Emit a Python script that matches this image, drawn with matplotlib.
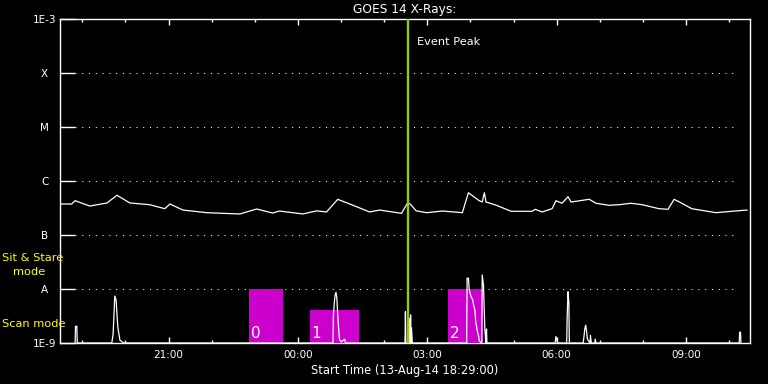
import pandas as pd
import matplotlib
matplotlib.use('Agg')
import matplotlib.pyplot as plt
import matplotlib.dates as mdates

# GOES 14 long-channel flux (W/m^2), hours after 18:29 start
goes_hours = [0.02, 0.27, 0.35, 0.69, 1.09, 1.32, 1.62, 2.08, 2.43, 2.55, 2.85, 3.40,
              4.17, 4.56, 4.93, 5.09, 5.63, 5.95, 6.18, 6.44, 6.76, 7.18, 7.41, 7.92,
              8.06, 8.12, 8.26, 8.50, 8.87, 9.33, 9.47, 9.72, 9.79, 9.84, 9.88, 10.12,
              10.46, 10.95, 11.02, 11.18, 11.41, 11.50, 11.64, 11.78, 11.85, 12.27,
              12.43, 12.73, 12.96, 13.24, 13.50, 13.89, 14.10, 14.24, 14.42, 14.65,
              15.21, 15.58, 15.93]
goes_flux = [3.75e-7, 3.75e-7, 4.32e-7, 3.44e-7, 3.92e-7, 5.44e-7, 3.92e-7, 3.64e-7,
             3.07e-7, 3.75e-7, 2.90e-7, 2.59e-7, 2.45e-7, 3.03e-7, 2.55e-7, 2.78e-7,
             2.45e-7, 2.80e-7, 2.67e-7, 4.58e-7, 3.64e-7, 2.67e-7, 2.90e-7, 2.52e-7,
             3.92e-7, 3.75e-7, 2.80e-7, 2.59e-7, 2.78e-7, 2.59e-7, 6.07e-7, 4.32e-7,
             4.08e-7, 6.07e-7, 4.08e-7, 3.55e-7, 2.75e-7, 2.75e-7, 2.99e-7, 2.67e-7,
             3.07e-7, 4.32e-7, 3.87e-7, 5.12e-7, 4.08e-7, 4.58e-7, 3.87e-7, 3.55e-7,
             3.64e-7, 3.87e-7, 3.64e-7, 3.07e-7, 2.99e-7, 4.58e-7, 3.87e-7, 3.07e-7,
             2.59e-7, 2.75e-7, 2.90e-7]

# scan-mode light curve (decades above the 1E-9 floor)
scan_hours = [0.35, 0.36, 0.38, 0.39, 0.40,
              1.20, 1.23, 1.25, 1.27, 1.30, 1.32, 1.34, 1.39, 1.48,
              6.33, 6.34, 6.36, 6.38, 6.40, 6.42, 6.44, 6.46, 6.48, 6.52, 6.60, 6.62,
              8.00, 8.01, 8.02, 8.08, 8.09, 8.10, 8.11, 8.12, 8.13, 8.14, 8.15, 8.17, 8.18, 8.19,
              9.43, 9.44, 9.47, 9.49, 9.53, 9.57, 9.59, 9.62, 9.64, 9.68, 9.71, 9.72,
              9.78, 9.79, 9.82, 9.85, 9.87, 9.88, 9.89, 9.90,
              11.48, 11.50, 11.52, 11.54,
              11.75, 11.76, 11.78, 11.80, 11.81,
              12.13, 12.15, 12.17, 12.19, 12.21, 12.23, 12.29, 12.30, 12.32, 12.40, 12.41, 12.43,
              15.75, 15.76, 15.78, 15.79]
scan_vals = [0, 0.31, 0.31, 0.31, 0,
             0, 0.15, 0.50, 0.87, 0.80, 0.55, 0.30, 0.05, 0,
             0, 0.52, 0.74, 0.89, 0.94, 0.83, 0.52, 0.28, 0.07, 0.02, 0.07, 0,
             0, 0.58, 0, 0, 0.46, 0, 0.30, 0, 0.52, 0, 0.28, 0, 0, 0,
             0, 1.20, 1.20, 0.98, 0.86, 0.80, 0.70, 0.61, 0.39, 0.21, 0.12, 0.04,
             0, 1.26, 1.07, 0.28, 0.04, 0, 0.26, 0,
             0, 0.12, 0.06, 0,
             0, 0.47, 0.95, 0.74, 0,
             0, 0.12, 0.27, 0.33, 0.22, 0.07, 0, 0.14, 0, 0, 0.07, 0,
             0, 0.20, 0.20, 0]

# observing boxes: start/end hours, height (decades)
box_start = [4.375, 5.79, 9.00]
box_end = [5.16, 6.94, 9.80]
box_top = [1.0, 0.61, 1.0]
box_labels = ['0', '1', '2']

event_hour = 8.06
levels = [1e-9, 1e-8, 1e-7, 1e-6, 1e-5, 1e-4, 1e-3]
level_labels = ['1E-9', 'A', 'B', 'C', 'M', 'X', '1E-3']

start = pd.Timestamp('2014-08-13 18:29:00')


def to_time(hours):
    return start + pd.to_timedelta(pd.Series(hours), unit='h')


def main():
    plt.rcParams['font.family'] = 'DejaVu Sans'
    fig = plt.figure(figsize=(7.68, 3.84), dpi=100, facecolor='black')
    ax = fig.add_axes([60 / 768, 41 / 384, 690 / 768, 324 / 384], facecolor='black')

    ax.plot(to_time(goes_hours), goes_flux, color='white', lw=0.9)
    ax.set_yscale('log')
    ax.set_ylim(1e-9, 1e-3)
    ax.set_xlim(start, start + pd.Timedelta(hours=16))

    # dotted level lines
    for lev in levels[1:-1]:
        ax.axhline(lev, xmin=15 / 690, xmax=1 - 14 / 690, color='white',
                   lw=0.75, ls=(0, (1, 5.5)))

    ax.set_yticks(levels)
    ax.set_yticklabels(level_labels)
    ax.yaxis.set_minor_locator(matplotlib.ticker.NullLocator())
    ax.tick_params(axis='y', which='major', direction='in', length=10.5, width=1,
                   colors='white', left=True, right=True, labelsize=7.5, pad=11)
    for lab in ax.get_yticklabels():
        lab.set_horizontalalignment('center')

    ax.xaxis.set_major_locator(mdates.HourLocator(byhour=range(0, 24, 3)))
    ax.xaxis.set_minor_locator(mdates.HourLocator())
    ax.xaxis.set_major_formatter(mdates.DateFormatter('%H:%M'))
    ax.tick_params(axis='x', which='major', direction='in', length=4.3, width=1,
                   colors='white', top=True, bottom=True, labelsize=7.5, pad=5)
    ax.tick_params(axis='x', which='minor', direction='in', length=2.2, width=1,
                   colors='white', top=True, bottom=True)
    ax.set_xlabel('Start Time (13-Aug-14 18:29:00)', color='white', fontsize=8.3, labelpad=3)
    for s in ax.spines.values():
        s.set_color('white')
        s.set_linewidth(1)

    # second layer for scan data, boxes and event line
    ax2 = ax.twinx()
    ax2.set_ylim(0, 6)
    ax2.set_axis_off()
    for x0, x1, top, lab in zip(box_start, box_end, box_top, box_labels):
        t0 = start + pd.Timedelta(hours=x0)
        t1 = start + pd.Timedelta(hours=x1)
        ax2.fill_between([t0, t1], 0, top, color='#cc00cc', lw=0)
        ax2.annotate(lab, xy=(t0, 0), xytext=(1.5, 1.5), textcoords='offset points',
                     color='white', fontsize=11, ha='left', va='bottom')
    ax2.plot(to_time(scan_hours), scan_vals, color='white', lw=0.9)

    t_event = start + pd.Timedelta(hours=event_hour)
    ax2.axvline(t_event, color='#99cc00', lw=1.7)
    ax2.annotate('Event Peak', xy=(t_event, 1), xycoords=('data', 'axes fraction'),
                 xytext=(7, -16.5), textcoords='offset points', color='white',
                 fontsize=8.2, ha='left', va='center')
    ax2.set_xlim(start, start + pd.Timedelta(hours=16))

    fig.text(405 / 768, 1 - 10 / 384, 'GOES 14 X-Rays:', color='white', fontsize=8.8,
             ha='center', va='center')
    fig.text(2 / 768, 1 - 258 / 384, 'Sit & Stare', color='#ffff00', fontsize=8.2,
             ha='left', va='center')
    fig.text(13 / 768, 1 - 272 / 384, 'mode', color='#ffff00', fontsize=8.2,
             ha='left', va='center')
    fig.text(2 / 768, 1 - 324 / 384, 'Scan mode', color='#ffff00', fontsize=8.2,
             ha='left', va='center')

    fig.savefig('out.png', dpi=100, facecolor='black')


if __name__ == "__main__":
    main()
